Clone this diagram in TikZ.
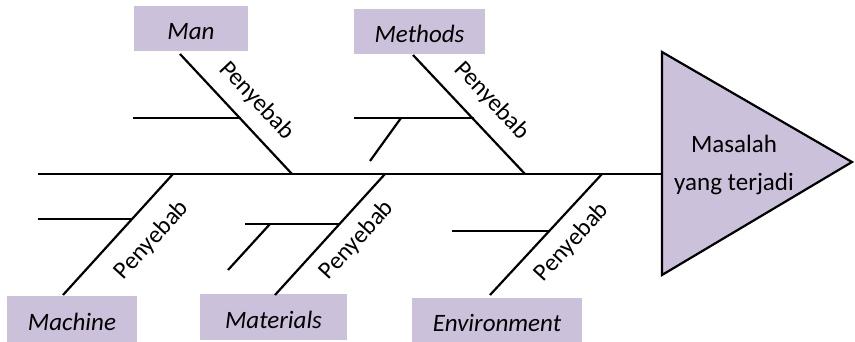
\documentclass[tikz,border=0pt]{standalone}
\usepackage{fontspec}
\setmainfont{Carlito}
\definecolor{lav}{RGB}{204,193,218}
\begin{document}
\begin{tikzpicture}[x=1pt,y=-1pt,
  bone/.style={line width=2.2pt},
  catbox/.style={fill=lav, inner sep=0pt, text height=22pt, text depth=0pt, font=\fontsize{25}{29}\selectfont\itshape},
  cause/.style={font=\fontsize{24.5}{28}\selectfont, inner sep=0pt}]
\useasboundingbox (0,0) rectangle (855,342);
% head
\draw[bone, fill=lav, line join=miter] (662,52) -- (852,162) -- (662,275) -- cycle;
\node[font=\fontsize{25}{38}\selectfont, align=center] (problem) at (734,165) {Masalah\\yang terjadi};
% spine
\coordinate (tail) at (38,174);
\coordinate (head) at (662,174);
\draw[bone] (tail) -- (head);
% category boxes
\node[catbox, minimum width=114pt, minimum height=45pt] (man) at (191,28.5) {Man};
\node[catbox, minimum width=131pt, minimum height=45pt] (methods) at (419.5,31.5) {Methods};
\node[catbox, minimum width=130pt, minimum height=46pt] (machine) at (72,319) {Machine};
\node[catbox, minimum width=147pt, minimum height=46pt] (materials) at (273.5,317) {Materials};
\node[catbox, minimum width=170pt, minimum height=44pt] (environment) at (497,320) {Environment};
% bone endpoints
\coordinate (manA) at (180,54);   \coordinate (manB) at (292,174);
\coordinate (metA) at (413,55);   \coordinate (metB) at (525,174);
\coordinate (macA) at (63,295);   \coordinate (macB) at (173,174);
\coordinate (matA) at (275,295);  \coordinate (matB) at (385,174);
\coordinate (envA) at (490,295);  \coordinate (envB) at (602,174);
\draw[bone] (manA) -- (manB);
\draw[bone] (metA) -- (metB);
\draw[bone] (macA) -- (macB);
\draw[bone] (matA) -- (matB);
\draw[bone] (envA) -- (envB);
% sub-bones
\coordinate (s1a) at (133,118); \coordinate (s1b) at (241,118);
\draw[bone] (s1a) -- (s1b);
\coordinate (s2a) at (354,118); \coordinate (s2b) at (474,118);
\draw[bone] (s2a) -- (s2b);
\coordinate (s2c) at (401,118); \coordinate (s2d) at (370,161);
\draw[bone] (s2c) -- (s2d);
\coordinate (s3a) at (38,219); \coordinate (s3b) at (133,219);
\draw[bone] (s3a) -- (s3b);
\coordinate (s4a) at (245,224); \coordinate (s4b) at (340,224);
\draw[bone] (s4a) -- (s4b);
\coordinate (s4c) at (270,224); \coordinate (s4d) at (228,270);
\draw[bone] (s4c) -- (s4d);
\coordinate (s5a) at (452,231); \coordinate (s5b) at (550,231);
\draw[bone] (s5a) -- (s5b);
% cause labels
\node[cause, rotate=-46.7] (c1) at (257,101) {Penyebab};
\node[cause, rotate=-46.7] (c2) at (492,101) {Penyebab};
\node[cause, rotate=47.5] (c3) at (152,240) {Penyebab};
\node[cause, rotate=47.5] (c4) at (357,240) {Penyebab};
\node[cause, rotate=47.5] (c5) at (572,242) {Penyebab};
\end{tikzpicture}
\end{document}
